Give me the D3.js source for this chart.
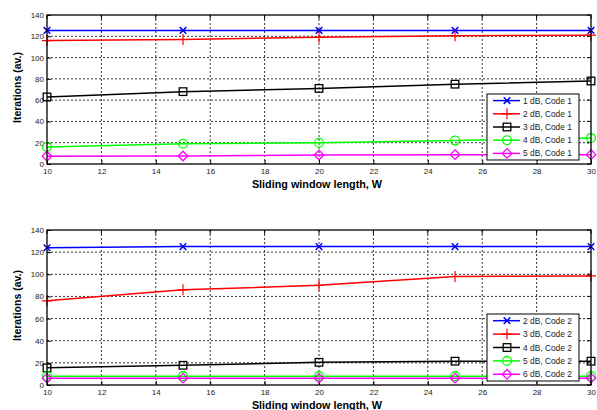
<!DOCTYPE html>
<html>
<head>
<meta charset="utf-8">
<script src="https://cdn.jsdelivr.net/npm/d3@7"></script>
<style>
  body { margin: 0; background: #fff; }
  svg { font-family: "Liberation Sans", Arial, sans-serif; }
</style>
</head>
<body>
<svg id="chart" width="597" height="410"></svg>
<script>
'use strict';
// window lengths on the x axis
const windowLengths = [10, 15, 20, 25, 30];
const xTicks = [10, 12, 14, 16, 18, 20, 22, 24, 26, 28, 30];
const yTicks = [0, 20, 40, 60, 80, 100, 120, 140];

// top panel, code 1
const code1Labels = ['1 dB, Code 1', '2 dB, Code 1', '3 dB, Code 1', '4 dB, Code 1', '5 dB, Code 1'];
const code1_1dB = [125.5, 125.5, 125.5, 125.5, 125.5];
const code1_2dB = [116, 117, 119, 120.5, 121];
const code1_3dB = [63, 68, 71, 75, 78];
const code1_4dB = [16, 19, 20, 22, 24.5];
const code1_5dB = [7.3, 7.5, 8.5, 8.8, 8.8];

// bottom panel, code 2
const code2Labels = ['2 dB, Code 2', '3 dB, Code 2', '4 dB, Code 2', '5 dB, Code 2', '6 dB, Code 2'];
const code2_2dB = [124, 125, 125, 125, 125];
const code2_3dB = [76, 86, 90, 98, 98.5];
const code2_4dB = [15.5, 17.8, 20.5, 21.5, 21.5];
const code2_5dB = [8, 8, 8, 8, 8];
const code2_6dB = [6.2, 6.2, 6.2, 6.2, 6.2];

const colors = ['#0000ff', '#ff0000', '#000000', '#00ff00', '#ff00ff'];
const markers = ['x', 'plus', 'square', 'circle', 'diamond'];

const svg = d3.select('#chart');

function drawMarker(g, type, cx, cy, color) {
  const s = 3.3;
  if (type === 'x') {
    g.append('path').attr('d', `M${cx-s},${cy-s}L${cx+s},${cy+s}M${cx-s},${cy+s}L${cx+s},${cy-s}`)
      .attr('stroke', color).attr('stroke-width', 1.5).attr('fill', 'none');
  } else if (type === 'plus') {
    g.append('path').attr('d', `M${cx-5},${cy}L${cx+5},${cy}M${cx},${cy-5.5}L${cx},${cy+5.5}`)
      .attr('stroke', color).attr('stroke-width', 1.2).attr('fill', 'none');
  } else if (type === 'square') {
    g.append('rect').attr('x', cx-3.8).attr('y', cy-3.8).attr('width', 7.6).attr('height', 7.6)
      .attr('stroke', color).attr('stroke-width', 1.3).attr('fill', 'none');
  } else if (type === 'circle') {
    g.append('circle').attr('cx', cx).attr('cy', cy).attr('r', 4.4)
      .attr('stroke', color).attr('stroke-width', 1.3).attr('fill', 'none');
  } else if (type === 'diamond') {
    g.append('path').attr('d', `M${cx},${cy-4.8}L${cx+4.8},${cy}L${cx},${cy+4.8}L${cx-4.8},${cy}Z`)
      .attr('stroke', color).attr('stroke-width', 1.3).attr('fill', 'none');
  }
}

function drawPanel(opts) {
  const { top, bottom, left, right, series, labels, legend } = opts;
  const x = d3.scaleLinear().domain([10, 30]).range([left, right]);
  const y = d3.scaleLinear().domain([0, 140]).range([bottom, top]);
  const g = svg.append('g');

  // grid
  g.selectAll('.vg').data(xTicks.slice(1, -1)).enter().append('line')
    .attr('x1', d => x(d)).attr('x2', d => x(d)).attr('y1', top).attr('y2', bottom)
    .attr('stroke', '#000').attr('stroke-width', 0.8).attr('stroke-dasharray', '2,2');
  g.selectAll('.hg').data(yTicks.slice(1, -1)).enter().append('line')
    .attr('x1', left).attr('x2', right).attr('y1', d => y(d)).attr('y2', d => y(d))
    .attr('stroke', '#000').attr('stroke-width', 0.8).attr('stroke-dasharray', '2,2');

  // axes
  const xAxis = g.append('g').attr('transform', `translate(0,${bottom})`)
    .call(d3.axisBottom(x).tickValues(xTicks).tickSize(-4).tickPadding(4));
  const yAxis = g.append('g').attr('transform', `translate(${left},0)`)
    .call(d3.axisLeft(y).tickValues(yTicks).tickSize(-4).tickPadding(3));
  [xAxis, yAxis].forEach(a => {
    a.select('.domain').remove();
    a.selectAll('text').attr('font-size', 8).attr('fill', '#222')
      .attr('font-family', '"Liberation Sans", Arial, sans-serif');
    a.selectAll('line').attr('stroke', '#000');
  });
  // top/right ticks
  g.selectAll('.tt').data(xTicks).enter().append('line')
    .attr('x1', d => x(d)).attr('x2', d => x(d)).attr('y1', top).attr('y2', top + 4).attr('stroke', '#000');
  g.selectAll('.rt').data(yTicks).enter().append('line')
    .attr('x1', right - 4).attr('x2', right).attr('y1', d => y(d)).attr('y2', d => y(d)).attr('stroke', '#000');

  // series
  const line = d3.line().x((d, i) => x(windowLengths[i])).y(d => y(d));
  series.forEach((s, k) => {
    g.append('path').datum(s).attr('d', line)
      .attr('fill', 'none').attr('stroke', colors[k]).attr('stroke-width', 1.5);
    s.forEach((v, i) => drawMarker(g, markers[k], x(windowLengths[i]), y(v), colors[k]));
  });

  // frame
  g.append('rect').attr('x', left).attr('y', top).attr('width', right - left).attr('height', bottom - top)
    .attr('fill', 'none').attr('stroke', '#000').attr('stroke-width', 1.3);

  // labels
  g.append('text').attr('x', (left + right) / 2 - 2).attr('y', bottom + 24)
    .attr('text-anchor', 'middle').attr('font-size', 10.8).attr('font-weight', 'bold')
    .text('Sliding window length, W');
  g.append('text').attr('transform', `translate(21,${(top + bottom) / 2 - 2}) rotate(-90)`)
    .attr('text-anchor', 'middle').attr('font-size', 10.5).attr('font-weight', 'bold')
    .text('Iterations (av.)');

  // legend
  const lg = g.append('g');
  lg.append('rect').attr('x', legend.x).attr('y', legend.y).attr('width', legend.w).attr('height', legend.h)
    .attr('fill', '#fff').attr('stroke', '#000').attr('stroke-width', 1);
  const rowH = legend.h / labels.length;
  labels.forEach((lab, k) => {
    const cy = legend.y + rowH * (k + 0.5);
    lg.append('line').attr('x1', legend.x + 6).attr('x2', legend.x + 33).attr('y1', cy).attr('y2', cy)
      .attr('stroke', colors[k]).attr('stroke-width', 1.5);
    drawMarker(lg, markers[k], legend.x + 20, cy, colors[k]);
    lg.append('text').attr('x', legend.x + 36).attr('y', cy + 3).attr('font-size', 8.4).attr('fill', '#222')
      .text(lab);
  });
}

drawPanel({
  top: 15, bottom: 164, left: 47, right: 591,
  series: [code1_1dB, code1_2dB, code1_3dB, code1_4dB, code1_5dB],
  labels: code1Labels,
  legend: { x: 487, y: 94, w: 92, h: 66 }
});

drawPanel({
  top: 230, bottom: 385, left: 47, right: 591,
  series: [code2_2dB, code2_3dB, code2_4dB, code2_5dB, code2_6dB],
  labels: code2Labels,
  legend: { x: 487, y: 314, w: 92, h: 67 }
});
</script>
</body>
</html>
